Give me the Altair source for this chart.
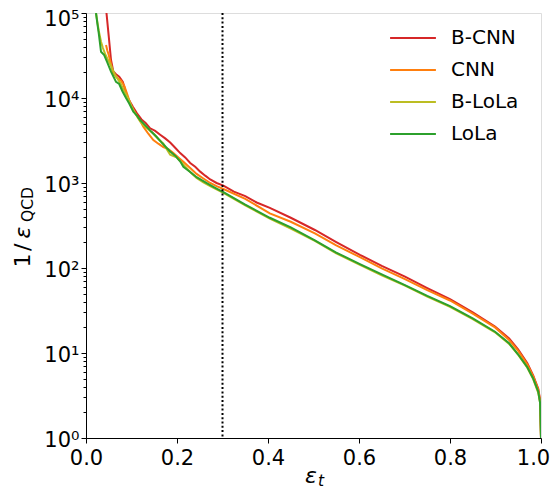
import altair as alt
import pandas as pd

series_names = ["B-CNN", "CNN", "B-LoLa", "LoLa"]
series_colors = ["#d62728", "#ff7f0e", "#bcbd22", "#2ca02c"]

bcnn_eps = [0.045, 0.050, 0.055, 0.060, 0.066, 0.073, 0.081, 0.087, 0.092, 0.103, 0.112, 0.122,
            0.131, 0.141, 0.152, 0.163, 0.174, 0.185, 0.196, 0.207, 0.218, 0.229, 0.240, 0.251,
            0.262, 0.273, 0.287, 0.302, 0.325, 0.35, 0.375, 0.404, 0.45, 0.503, 0.55, 0.602,
            0.65, 0.701, 0.75, 0.80, 0.85, 0.899, 0.93, 0.95, 0.97, 0.983, 0.994, 0.998, 1.0]
bcnn_val = [1.0e5, 5.3e4, 2.8e4, 2.05e4, 1.9e4, 1.78e4, 1.55e4, 1.2e4, 1.0e4, 7.9e3, 6.6e3, 5.6e3,
            5.1e3, 4.4e3, 4.1e3, 3.7e3, 3.35e3, 3.0e3, 2.6e3, 2.25e3, 2.0e3, 1.72e3, 1.55e3, 1.36e3,
            1.22e3, 1.1e3, 1.0e3, 930, 790, 700, 590, 510, 390, 280, 202, 143,
            106, 79, 58, 43, 30, 20.5, 14.8, 11.0, 7.6, 5.4, 3.8, 2.8, 1.0]

cnn_eps = [0.044, 0.047, 0.050, 0.055, 0.059, 0.067, 0.077, 0.084, 0.092, 0.097, 0.104, 0.111,
           0.119, 0.126, 0.137, 0.148, 0.159, 0.170, 0.181, 0.192, 0.203, 0.214, 0.229, 0.243,
           0.258, 0.273, 0.287, 0.302, 0.35, 0.404, 0.45, 0.503, 0.55, 0.602, 0.65, 0.701,
           0.75, 0.80, 0.85, 0.899, 0.93, 0.95, 0.97, 0.983, 0.994, 0.998, 1.0]
cnn_val = [4.2e4, 3.6e4, 3.2e4, 2.5e4, 2.0e4, 1.75e4, 1.6e4, 1.4e4, 1.05e4, 8.7e3, 7.2e3, 6.3e3,
           5.4e3, 4.6e3, 3.8e3, 3.2e3, 2.9e3, 2.65e3, 2.5e3, 2.25e3, 2.0e3, 1.78e3, 1.5e3, 1.28e3,
           1.13e3, 1.0e3, 920, 850, 650, 440, 350, 255, 185, 134, 99, 74,
           55, 41.5, 29, 20, 14.2, 10.6, 7.3, 5.3, 3.7, 2.7, 1.0]

blola_eps = [0.022, 0.025, 0.028, 0.033, 0.037, 0.042, 0.047, 0.055, 0.062, 0.069, 0.077, 0.084,
             0.092, 0.100, 0.108, 0.119, 0.126, 0.137, 0.148, 0.159, 0.170, 0.185, 0.199, 0.214,
             0.229, 0.243, 0.258, 0.273, 0.302, 0.35, 0.404, 0.45, 0.503, 0.55, 0.602, 0.65,
             0.701, 0.75, 0.80, 0.85, 0.899, 0.93, 0.95, 0.97, 0.983, 0.994, 0.998, 1.0]
blola_val = [1.0e5, 7.8e4, 6.2e4, 4.6e4, 3.9e4, 3.3e4, 2.9e4, 2.4e4, 1.95e4, 1.7e4, 1.45e4, 1.2e4,
             1.0e4, 8.0e3, 6.6e3, 5.3e3, 4.8e3, 4.3e3, 3.8e3, 3.3e3, 2.9e3, 2.15e3, 2.0e3, 1.65e3,
             1.35e3, 1.15e3, 1.02e3, 920, 765, 545, 380, 290, 208, 149, 109, 82,
             62, 46, 35, 25, 17.5, 12.8, 9.5, 6.7, 4.9, 3.4, 2.6, 1.0]

lola_eps = [0.022, 0.025, 0.028, 0.033, 0.040, 0.047, 0.055, 0.060, 0.066, 0.073, 0.080, 0.088,
            0.095, 0.104, 0.112, 0.119, 0.133, 0.144, 0.155, 0.166, 0.177, 0.185, 0.196, 0.207,
            0.214, 0.229, 0.243, 0.258, 0.273, 0.287, 0.302, 0.35, 0.404, 0.45, 0.503, 0.55,
            0.602, 0.65, 0.701, 0.75, 0.80, 0.85, 0.899, 0.93, 0.95, 0.97, 0.983, 0.994, 0.998, 1.0]
lola_val = [1.0e5, 7.5e4, 5.8e4, 3.5e4, 3.2e4, 2.6e4, 2.04e4, 1.8e4, 1.55e4, 1.46e4, 1.2e4, 1.0e4,
            8.6e3, 6.9e3, 6.2e3, 5.5e3, 4.6e3, 4.0e3, 3.5e3, 3.0e3, 2.6e3, 2.35e3, 2.1e3, 1.8e3,
            1.55e3, 1.35e3, 1.17e3, 1.05e3, 946, 860, 780, 555, 390, 300, 212, 152,
            111, 84, 63, 47, 35.7, 25.5, 17.8, 13.0, 9.6, 6.8, 5.0, 3.5, 2.6, 1.0]

wp_eps = [0.3]

x_ticks = [0.0, 0.2, 0.4, 0.6, 0.8]
x_last_tick = [1.0]
y_ticks = [1, 10, 100, 1000, 10000]
y_top_tick = [100000]
y_labels = ["10⁰", "10¹", "10²", "10³", "10⁴", "10⁵"]
y_minor = [m * 10 ** k for k in range(0, 5) for m in range(2, 10)]

rows = []
for name, es, vs in zip(series_names,
                        [bcnn_eps, cnn_eps, blola_eps, lola_eps],
                        [bcnn_val, cnn_val, blola_val, lola_val]):
    for i, (e, v) in enumerate(zip(es, vs)):
        rows.append({"series": name, "eps": e, "inv": v, "idx": i})
df = pd.DataFrame(rows)

FONT = "DejaVu Sans"
W, H = 455, 425

xscale = alt.Scale(domain=[0, 1], nice=False, zero=False)
yscale = alt.Scale(type="log", domain=[1, 100000], nice=False)

label_expr = "[" + ",".join("'" + s + "'" for s in y_labels) + "][round(log(datum.value)/LN10)]"


def x_axis(values, offset=0, domain=True):
    return alt.Axis(values=values, format=".1f", title=None, grid=False, tickSize=5,
                    labelPadding=4, labelFontSize=21, labelFont=FONT, labelColor="black",
                    domain=domain, domainColor="black", tickColor="black", labelFlush=False,
                    labelOffset=offset, orient="bottom")


def y_axis(values, offset=2, domain=True):
    return alt.Axis(values=values, labelExpr=label_expr, title=None, grid=False, tickSize=5,
                    labelPadding=2, labelFontSize=21, labelFont=FONT, labelColor="black",
                    domain=domain, domainColor="black", tickColor="black", labelFlush=False,
                    labelOffset=offset, orient="left")


y_minor_axis = alt.Axis(values=y_minor, labels=False, title=None, grid=False, tickSize=3,
                        domain=False, tickColor="black", orient="left")

lines = alt.Chart(df).mark_line(strokeWidth=2, clip=True).encode(
    x=alt.X("eps:Q", scale=xscale, axis=x_axis(x_ticks)),
    y=alt.Y("inv:Q", scale=yscale, axis=y_axis(y_ticks)),
    color=alt.Color("series:N", sort=series_names,
                    scale=alt.Scale(domain=series_names, range=series_colors),
                    legend=alt.Legend(title=None, orient="none", legendX=311, legendY=9,
                                      symbolType="M-1.58,0H1.58", symbolSize=841,
                                      symbolStrokeWidth=2.2, labelFontSize=20, labelFont=FONT,
                                      labelColor="black", labelOffset=22, rowPadding=6,
                                      padding=0)),
    order="idx:Q",
)

minor = alt.Chart(df).mark_point(opacity=0).encode(
    x=alt.X("eps:Q", scale=xscale, axis=x_axis(x_last_tick, offset=-8, domain=False)),
    y=alt.Y("inv:Q", scale=yscale, axis=y_minor_axis),
)

top_lab = alt.Chart(df).mark_point(opacity=0).encode(
    y=alt.Y("inv:Q", scale=yscale, axis=y_axis(y_top_tick, offset=6, domain=False)),
)

wp = alt.Chart(pd.DataFrame({"eps": wp_eps})).mark_rule(
    color="black", strokeWidth=2, strokeDash=[2, 2.3]
).encode(x=alt.X("eps:Q", scale=xscale, axis=None))


def txt(s, x, y, size=22, style="normal", angle=0, align="left", baseline="alphabetic"):
    return alt.Chart(pd.DataFrame({"t": [s]})).mark_text(
        font=FONT, fontSize=size, fontStyle=style, angle=angle, align=align,
        baseline=baseline, color="black"
    ).encode(text="t:N", x=alt.value(x), y=alt.value(y))


titles = [
    txt("1", -56, 254.5, angle=270),
    txt("/", -56, 238, angle=270),
    txt("ε", -56, 225.5, style="italic", angle=270),
    txt("QCD", -52.7, 209, size=15.5, angle=270),
    txt("ε", 219, 470, style="italic"),
    txt("t", 232, 472.5, size=15.5, style="italic"),
]

chart = alt.layer(lines, minor, top_lab, wp, *titles).resolve_axis(
    y="independent", x="independent"
).resolve_scale(
    y="shared", x="shared"
).properties(
    width=W, height=H,
    autosize=alt.AutoSizeParams(type="none"),
    padding={"left": 78, "top": 5, "right": 9, "bottom": 52},
).configure_view(stroke="black", strokeWidth=1).configure(font=FONT)

chart.save("out.html", embed_options={"renderer": "svg", "actions": False})
